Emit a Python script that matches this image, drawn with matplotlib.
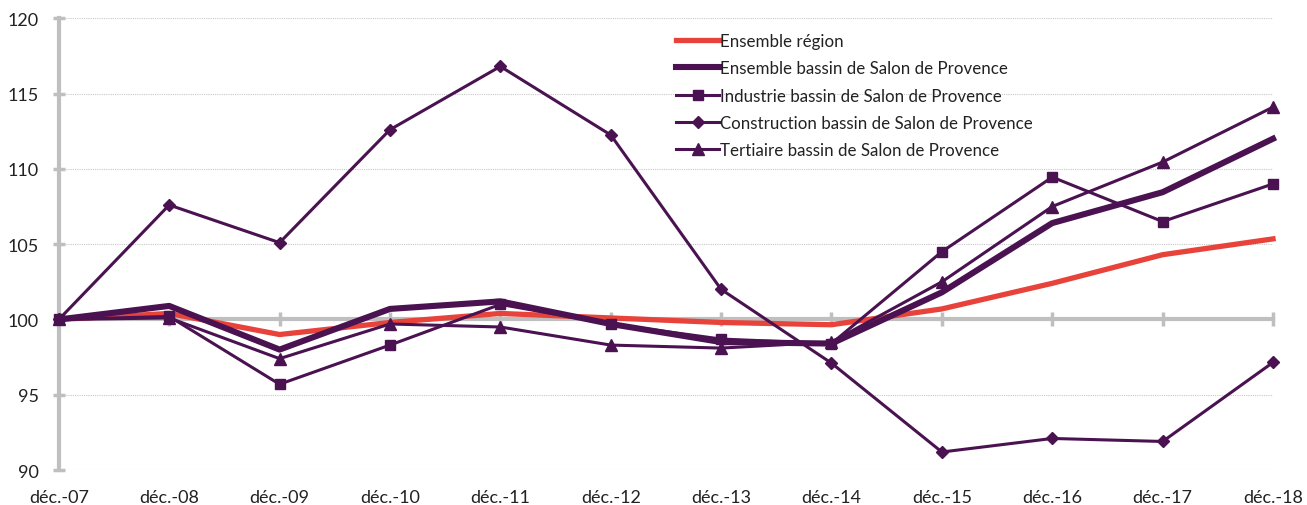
import matplotlib
matplotlib.use("Agg")
import matplotlib.pyplot as plt
from matplotlib.transforms import blended_transform_factory

categories = ["déc.-07", "déc.-08", "déc.-09", "déc.-10", "déc.-11", "déc.-12",
              "déc.-13", "déc.-14", "déc.-15", "déc.-16", "déc.-17", "déc.-18"]
ensemble_region = [100, 100.4, 99.0, 99.8, 100.4, 100.1, 99.8, 99.65, 100.7, 102.4, 104.3, 105.35]
ensemble_bassin = [100, 100.9, 98.0, 100.7, 101.2, 99.7, 98.5, 98.4, 101.8, 106.4, 108.45, 112.0]
industrie = [100, 100.2, 95.7, 98.3, 101.0, 99.7, 98.7, 98.4, 104.5, 109.45, 106.5, 109.0]
construction = [100, 107.6, 105.1, 112.6, 116.8, 112.25, 102.0, 97.1, 91.2, 92.1, 91.9, 97.15]
tertiaire = [100, 100.1, 97.4, 99.7, 99.5, 98.3, 98.1, 98.5, 102.5, 107.5, 110.45, 114.1]
yticks = [90, 95, 100, 105, 110, 115, 120]

RED = "#E8433B"
PURPLE = "#4A1250"
GRAY = "#BFBFBF"

plt.rcParams['font.family'] = ['Lato', 'DejaVu Sans']

fig = plt.figure(figsize=(13.07, 5.06), dpi=100)
ax = fig.add_axes([0.045, 0.069, 0.929, 0.893])
x = list(range(len(categories)))

ax.set_xlim(0, len(categories) - 1)
ax.set_ylim(90, 120)

for v in yticks:
    if v != 100:
        ax.axhline(v, color="#C8C8C8", lw=0.8, ls=(0, (1, 1)), zorder=0)

ax.plot(x, ensemble_region, color=RED, lw=3.8, label="Ensemble région", zorder=3, clip_on=False)
ax.plot(x, ensemble_bassin, color=PURPLE, lw=4.4, label="Ensemble bassin de Salon de Provence", zorder=4, clip_on=False)
ax.plot(x, industrie, color=PURPLE, lw=2.2, marker="s", ms=7, label="Industrie bassin de Salon de Provence", zorder=4, clip_on=False)
ax.plot(x, construction, color=PURPLE, lw=2.2, marker="D", ms=6.5, label="Construction bassin de Salon de Provence", zorder=4, clip_on=False)
ax.plot(x, tertiaire, color=PURPLE, lw=2.2, marker="^", ms=8, label="Tertiaire bassin de Salon de Provence", zorder=4, clip_on=False)

for s in ["top", "right"]:
    ax.spines[s].set_visible(False)
ax.spines["left"].set_color(GRAY)
ax.spines["left"].set_linewidth(3)
ax.spines["left"].set_zorder(1)
ax.spines["bottom"].set_position(("data", 100))
ax.spines["bottom"].set_color(GRAY)
ax.spines["bottom"].set_linewidth(3)
ax.spines["bottom"].set_zorder(1)

ax.set_yticks(yticks)
ax.tick_params(axis="y", direction="inout", length=9, width=2.5, color=GRAY,
               labelsize=13, labelcolor="#222222", pad=10)
ax.set_xticks(x)
ax.tick_params(axis="x", direction="inout", length=10, width=2.5, color=GRAY, labelbottom=False)

trans = blended_transform_factory(ax.transData, ax.transAxes)
for xi, lab in zip(x, categories):
    ax.text(xi, -0.042, lab, transform=trans, ha="center", va="top", fontsize=13, color="#222222")

leg = ax.legend(loc="upper left", bbox_to_anchor=(0.503, 0.982), frameon=False, fontsize=12.2,
                handlelength=2.5, handletextpad=0.1, labelspacing=0.66, borderaxespad=0)
for t in leg.get_texts():
    t.set_color("#222222")

fig.savefig("out.png", dpi=100)
